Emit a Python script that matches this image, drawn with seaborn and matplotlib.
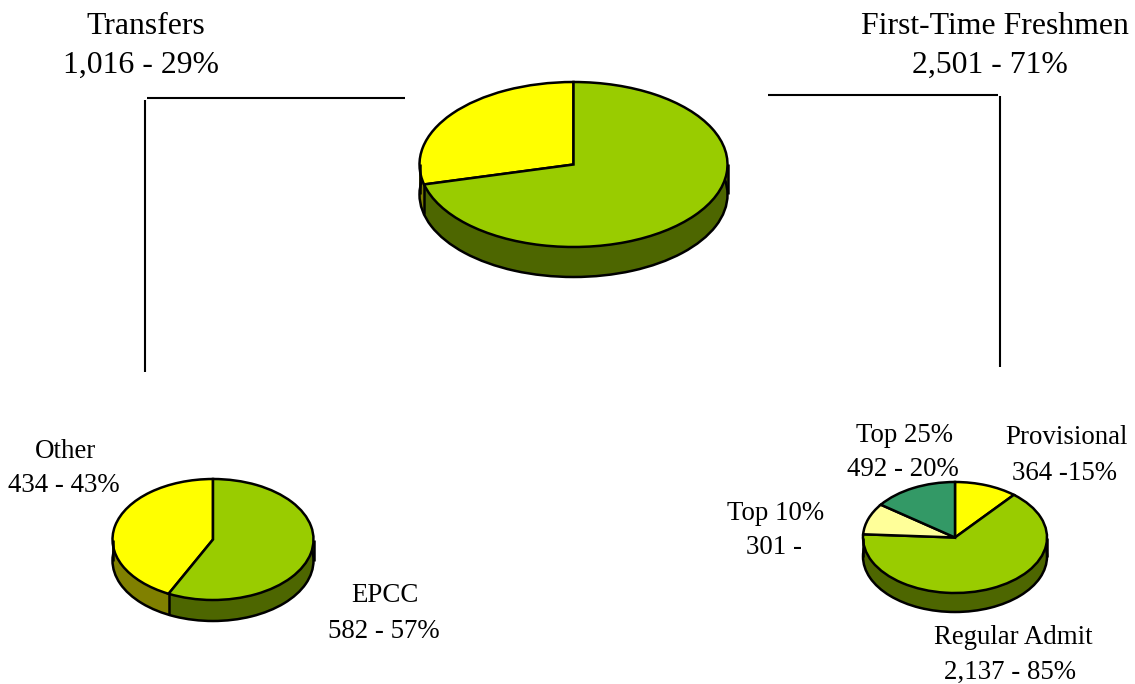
import numpy as np
import matplotlib
matplotlib.use("Agg")
import matplotlib.pyplot as plt
import seaborn as sns

# Data
overall_labels = ["Transfers", "First-Time Freshmen"]
overall_values = [1016, 2501]
transfer_labels = ["Other", "EPCC"]
transfer_values = [434, 582]
freshmen_labels = ["Provisional", "Regular Admit", "Top 10%", "Top 25%"]
freshmen_values = [364, 2137, 301, 492]

GREEN, YELLOW, PALE, TEAL = "#99cc00", "#ffff00", "#ffff99", "#339966"
GREEN_S, YELLOW_S, PALE_S, TEAL_S = "#4d6600", "#808000", "#808040", "#1a4d33"

sns.set_theme(style="white")
plt.rcParams["font.family"] = ["Liberation Serif", "DejaVu Serif"]

W, H = 1135, 684
fig = plt.figure(figsize=(W / 100, H / 100), dpi=100, facecolor="white")

bg = fig.add_axes([0, 0, 1, 1])
bg.set_xlim(0, W)
bg.set_ylim(H, 0)
bg.axis("off")


def pie3d(values, colors, sides, cx, cy, rx, ry, depth, counterclock=True):
    pad = 5
    rect = [(cx - rx - pad) / W, 1 - (cy + ry + depth + pad) / H,
            (2 * rx + 2 * pad) / W, (2 * ry + depth + 2 * pad) / H]
    ax = fig.add_axes(rect)
    ax.patch.set_alpha(0)
    d = depth / ry
    lw = 1.8
    # side wall: stacked copies of the pie in the darker colours
    for off in np.linspace(d, 0, int(depth) * 2):
        ax.pie(values, colors=sides, startangle=90, counterclock=counterclock,
               center=(0, -off), radius=1, wedgeprops=dict(linewidth=0))
    # lower outline
    ax.pie([1], colors=["none"], startangle=90, center=(0, -d), radius=1,
           wedgeprops=dict(edgecolor="black", linewidth=lw, facecolor="none"))
    ax.vlines([-1, 1], -d, 0, color="black", linewidth=lw)
    # dividers on the front wall
    frac = np.cumsum(values) / np.sum(values)
    sign = 1 if counterclock else -1
    ang = np.deg2rad(90 + sign * 360 * frac)
    for a in ang:
        if np.sin(a) < -0.02:
            ax.vlines(np.cos(a), np.sin(a) - d, np.sin(a), color="black", linewidth=lw)
    # top face
    ax.pie(values, colors=colors, startangle=90, counterclock=counterclock,
           center=(0, 0), radius=1,
           wedgeprops=dict(edgecolor="black", linewidth=lw))
    ax.set_aspect("auto")
    ax.set_xlim(-(rx + pad) / rx, (rx + pad) / rx)
    ax.set_ylim(-(ry + depth + pad) / ry, (ry + pad) / ry)
    ax.axis("off")
    return ax


pie3d(overall_values, [YELLOW, GREEN], [YELLOW_S, GREEN_S], 573.5, 164.5, 154, 82.5, 30)
pie3d(transfer_values, [YELLOW, GREEN], [YELLOW_S, GREEN_S], 213, 539.5, 100.5, 60.5, 21)
pie3d(freshmen_values, [YELLOW, GREEN, PALE, TEAL],
      [YELLOW_S, GREEN_S, PALE_S, TEAL_S], 955, 537.5, 92, 55.5, 19, counterclock=False)

# connector lines
for xs, ys in [((147, 405), (98, 98)), ((145, 145), (100, 372)),
               ((768, 998), (95, 95)), ((1000, 1000), (96, 367))]:
    bg.plot(xs, ys, color="black", linewidth=1.5, solid_capstyle="butt")

big, small = 22.9, 19.4
texts = [
    (146, 26, overall_labels[0], big), (141, 65, "1,016 - 29%", big),
    (995, 26, overall_labels[1], big), (990, 65, "2,501 - 71%", big),
    (65, 451, transfer_labels[0], small), (64, 486, "434 - 43%", small),
    (385, 596, transfer_labels[1], small), (384, 632, "582 - 57%", small),
    (1066, 438, freshmen_labels[0], small), (1065, 473, "364 -15%", small),
    (1013, 638, freshmen_labels[1], small), (1010, 672, "2,137 - 85%", small),
    (776, 513, freshmen_labels[2], small), (774, 548, "301 -", small),
    (904, 435, freshmen_labels[3], small), (903, 469, "492 - 20%", small),
]
for x, y, s, fs in texts:
    bg.text(x, y, s, ha="center", va="center", fontsize=fs, color="black")

fig.savefig("out.png", dpi=100, facecolor="white")
